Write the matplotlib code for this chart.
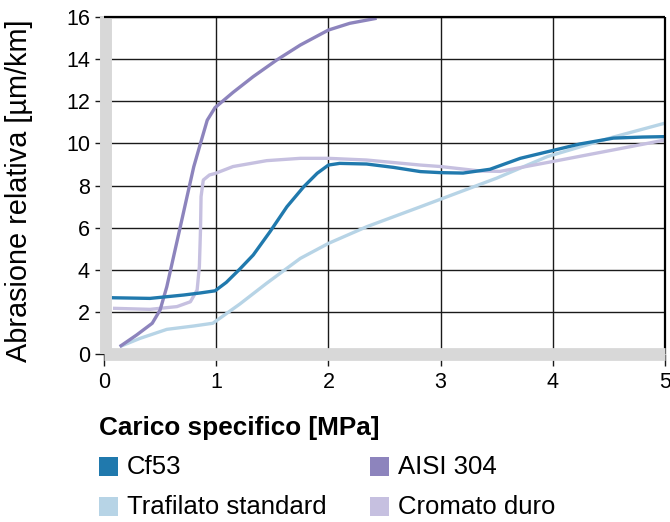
import matplotlib
matplotlib.use('Agg')
import matplotlib.pyplot as plt
from matplotlib.patches import Rectangle

plt.rcParams['font.family'] = ['Liberation Sans', 'DejaVu Sans']

# Curve di abrasione relativa in funzione del carico specifico
cf53_x = [0.0, 0.08, 0.41, 0.71, 0.86, 0.99, 1.09, 1.21, 1.33, 1.48, 1.63, 1.78, 1.9, 2.0,
          2.1, 2.34, 2.58, 2.82, 3.0, 3.2, 3.44, 3.71, 3.99, 4.24, 4.54, 4.8, 5.0]
cf53_y = [2.7, 2.67, 2.64, 2.8, 2.9, 3.0, 3.4, 4.03, 4.7, 5.81, 6.99, 7.94, 8.58, 8.97,
          9.05, 9.02, 8.86, 8.66, 8.61, 8.59, 8.77, 9.29, 9.65, 9.97, 10.25, 10.3, 10.32]

aisi_x = [0.14, 0.29, 0.43, 0.5, 0.56, 0.62, 0.68, 0.74, 0.8, 0.86, 0.92, 0.99, 1.15, 1.33,
          1.54, 1.75, 2.0, 2.19, 2.43]
aisi_y = [0.35, 0.9, 1.46, 2.09, 3.2, 4.62, 6.04, 7.47, 8.89, 10.0, 11.1, 11.7, 12.42, 13.17,
          13.96, 14.67, 15.38, 15.7, 15.94]

trafilato_x = [0.14, 0.32, 0.56, 0.8, 0.97, 1.21, 1.45, 1.75, 2.0, 2.34, 2.82, 3.0, 3.5,
               3.95, 4.54, 5.0]
trafilato_y = [0.35, 0.74, 1.17, 1.33, 1.46, 2.37, 3.36, 4.54, 5.25, 6.04, 6.99, 7.35, 8.35,
               9.37, 10.3, 10.96]

cromato_x = [0.08, 0.41, 0.65, 0.77, 0.83, 0.85, 0.86, 0.865, 0.885, 0.94, 0.99, 1.15, 1.45,
             1.75, 2.0, 2.34, 2.82, 3.0, 3.35, 3.53, 3.99, 4.54, 5.0]
cromato_y = [2.17, 2.12, 2.25, 2.48, 3.04, 4.15, 5.89, 7.47, 8.26, 8.5, 8.57, 8.9, 9.18,
             9.29, 9.29, 9.21, 8.97, 8.9, 8.69, 8.67, 9.13, 9.69, 10.16]

labels = ['Cf53', 'AISI 304', 'Trafilato standard', 'Cromato duro']
colors = ['#2079ad', '#8d84bd', '#b7d4e6', '#c6c0e0']

fig = plt.figure(figsize=(6.7, 5.22), dpi=100)
ax = fig.add_axes([104 / 670, 1 - 354 / 522, 561 / 670, 337 / 522])

series = [(cf53_x, cf53_y), (aisi_x, aisi_y), (trafilato_x, trafilato_y), (cromato_x, cromato_y)]
order = [2, 3, 1, 0]
for i in order:
    xs, ys = series[i]
    ax.plot(xs, ys, color=colors[i], lw=2.4, zorder=2.2,
            solid_capstyle='butt', solid_joinstyle='round')

ax.set_xlim(0, 5)
ax.set_ylim(0, 16)
ax.set_xticks(range(0, 6))
ax.set_yticks(range(0, 17, 2))
ax.grid(True, color='#1a1a1a', lw=1.0)
ax.set_axisbelow(True)
ax.tick_params(axis='y', length=8, width=1.0, pad=3.5, labelsize=15.5, color='#1a1a1a')
ax.tick_params(axis='x', length=8.6, width=1.0, pad=4, labelsize=15.5, color='#1a1a1a')

# assi grigi spessi a sinistra e in basso, bordo nero sopra e a destra
ax.spines['left'].set_color('#d8d8d8')
ax.spines['left'].set_linewidth(8.6)
ax.spines['left'].set_position(('outward', -1.4))
ax.spines['bottom'].set_color('#d8d8d8')
ax.spines['bottom'].set_linewidth(9.2)
ax.spines['top'].set_color('black')
ax.spines['top'].set_linewidth(1.6)
ax.spines['right'].set_color('black')
ax.spines['right'].set_linewidth(1.6)
for s in ax.spines.values():
    s.set_zorder(3)
    s.set_capstyle('butt')

fig.text(19 / 670, 1 - 191 / 522, 'Abrasione relativa [µm/km]', rotation=90,
         ha='center', va='center', fontsize=20.8)
fig.text(99 / 670, 1 - 428 / 522, 'Carico specifico [MPa]', ha='left', va='center',
         fontsize=18.8, fontweight='bold')

# legenda su due colonne
pos = [(99, 457), (370, 457), (99, 497), (370, 497)]
for (px, py), lab, col in zip(pos, labels, colors):
    fig.add_artist(Rectangle((px / 670, 1 - (py + 19) / 522), 19 / 670, 19 / 522,
                             transform=fig.transFigure, color=col, lw=0))
    fig.text((px + 28) / 670, 1 - (py + 9.5) / 522, lab, ha='left', va='center',
             fontsize=18.5)

fig.savefig('out.png', dpi=100)
